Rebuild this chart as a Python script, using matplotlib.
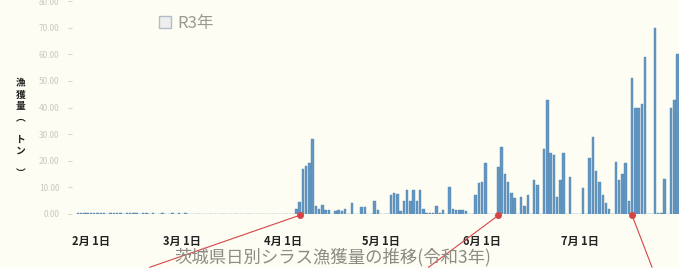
import matplotlib
matplotlib.use("Agg")
import matplotlib.pyplot as plt
import matplotlib.dates as mdates
from matplotlib.patches import Patch
import numpy as np
import datetime as dt

plt.rcParams['font.family'] = ['Noto Sans CJK JP', 'DejaVu Sans']

# 日別漁獲量（トン）  2021/1/28 から
start_day = dt.date(2021, 1, 28)
catch_jan = [0.3, 0.3, 0.2, 0.3]
catch_feb = [0.3, 0.2, 0.3, 0.4, 0.2, 0, 0.3, 0.3, 0.2, 0.3, 0, 0.3, 0.4, 0.2,
             0.3, 0, 0.2, 0.3, 0, 0.2, 0, 0, 0.3, 0, 0, 0.2, 0, 0.3]
catch_mar = [0, 0.2] + [0] * 29
catch_apr = [0, 0, 0, 0, 2, 4.5, 17, 18, 19, 28, 3, 2, 3.4, 1.5, 1.5, 0, 1.2,
             1.5, 1.2, 2, 0, 4, 0, 0, 2.5, 2.5, 0, 0, 5, 1.5]
catch_may = [0, 0, 0, 7, 8, 7.5, 1, 5, 9, 5, 9, 5, 9, 2, 0.4, 0.4, 0.4, 3, 0.5,
             1.5, 0, 10, 2, 1.5, 1.5, 1.5, 1, 0, 0, 7, 11.6]
catch_jun = [12, 19, 0, 0, 0, 17.6, 25, 15, 12, 8, 6, 0, 6.5, 3, 7, 0, 12.7, 11,
             0, 24.6, 42.7, 23, 22, 6.5, 12.7, 23, 0, 14, 0, 0]
catch_jul = [0, 9.7, 0, 21, 29, 16, 12, 7, 4, 2, 0, 19.5, 12.7, 15, 19, 5, 51,
             40, 40, 41.5, 59, 0, 0, 70, 0.5, 0.5, 13, 0, 40, 43, 60]

catch = catch_jan + catch_feb + catch_mar + catch_apr + catch_may + catch_jun + catch_jul
days = [start_day + dt.timedelta(days=i) for i in range(len(catch))]

tick_dates = [dt.date(2021, m, 1) for m in range(2, 8)]
tick_labels = [f"{d.month}月 1日" for d in tick_dates]
y_ticks = np.arange(0, 81, 10)

# 赤い丸印（資料の引き出し線）
mark_dates = [dt.date(2021, 4, 6), dt.date(2021, 6, 6), dt.date(2021, 7, 17)]
mark_offsets = [(-150, -52), (-70, -52), (20, -52)]

bg = '#fdfdf4'
bar_col = '#6297c1'
red = '#d64545'

fig = plt.figure(figsize=(6.79, 2.68), dpi=100, facecolor=bg)
ax = fig.add_axes([0.106, 0.2015, 0.894, 0.7985], facecolor=bg)

ax.bar(days, catch, width=0.75, color=bar_col, edgecolor='#5587b0', linewidth=0.3)

x0 = mdates.date2num(dt.date(2021, 2, 1))
ax.set_xlim(x0 - 5.83, x0 + 180.4)
ax.set_ylim(0, 80.4)

ax.set_xticks(tick_dates)
ax.set_xticklabels(tick_labels, fontsize=8, fontweight='bold', color='#222222')
ax.tick_params(axis='x', length=0, pad=15)
ax.set_yticks(y_ticks)
ax.set_yticklabels([f"{v:.2f}" for v in y_ticks], fontsize=6, color='#c9c9bd')
ax.tick_params(axis='y', length=3, color='#d8d8cc', pad=6)
for s in ax.spines.values():
    s.set_visible(False)

for d, off in zip(mark_dates, mark_offsets):
    ax.annotate('', xy=(d, -0.5), xytext=off, textcoords='offset pixels',
                arrowprops=dict(arrowstyle='-', color=red, lw=0.8,
                                shrinkA=0, shrinkB=0), annotation_clip=False)
ax.plot(mark_dates, [-0.5] * len(mark_dates), 'o', color=red, ms=4,
        clip_on=False, zorder=5)

fig.legend(handles=[Patch(facecolor='#eeeeee', edgecolor='#b4bccb', label='R3年')],
           loc='upper left', bbox_to_anchor=(0.212, 1.0), frameon=False,
           handlelength=0.7, handleheight=0.7, handletextpad=0.4,
           prop={'size': 12}, labelcolor='#9a9a90')

fig.text(0.03, 0.52, "漁\n獲\n量\n︵\n\nト\nン\n\n︶", fontsize=7, fontweight='bold',
         ha='center', va='center', linespacing=1.15, color='#222222')

fig.text(0.49, 0.04, "茨城県日別シラス漁獲量の推移(令和3年)", fontsize=12.5,
         ha='center', va='center', color='#8c8c84')

fig.savefig('out.png', dpi=100, facecolor=bg)
